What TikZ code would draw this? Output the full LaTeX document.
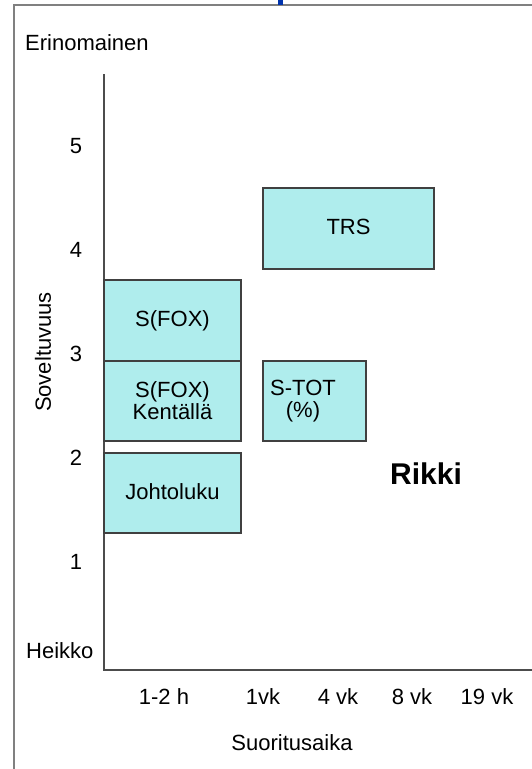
\documentclass[tikz,border=0pt]{standalone}
\usepackage{fontspec}
\setmainfont{Liberation Sans}
\begin{document}
\begin{tikzpicture}[x=1pt,y=-1pt,
  every node/.style={font=\fontsize{22}{24}\selectfont, inner sep=0pt},
  method/.style={draw=black!75, line width=1.2pt, fill=cyan!30!white!85!teal!20, align=center},
  axisline/.style={draw=black!70, line width=1.6pt},
  framel/.style={draw=black!50, line width=2pt}]
\definecolor{boxfill}{HTML}{AFEDED}
\useasboundingbox (0,0) rectangle (532,769);
% outer frame (top and left edges)
\draw[framel] (13.5,769) -- (13.5,4.5) -- (532,4.5);
\fill[blue!60!black!80!cyan] (277.5,0) rectangle (283,5);
% axes
\coordinate (ytop) at (104,74);
\coordinate (origin) at (104,670);
\coordinate (xend) at (532,670);
\draw[axisline] (ytop) -- (origin) -- (xend);
% axis texts
\node[anchor=west] (best) at (25,43) {Erinomainen};
\node[anchor=west] (worst) at (26,651) {Heikko};
\node[rotate=90] (ylab) at (43,352) {Soveltuvuus};
\foreach \v/\yy in {5/146,4/250,3/354,2/458,1/562}
  \node (n\v) at (76,\yy) {\v};
\node (t1) at (164,697) {1-2 h};
\node (t2) at (263,697) {1vk};
\node (t3) at (338,697) {4 vk};
\node (t4) at (412,697) {8 vk};
\node (t5) at (487,697) {19 vk};
\node (xlab) at (292,743) {Suoritusaika};
% methods
\draw[method, fill=boxfill] (104,280) rectangle (241,361);
\node (sfox) at (172.5,320.5) {S(FOX)};
\draw[method, fill=boxfill] (104,361) rectangle (241,441);
\node[align=center] (sfoxk) at (172.5,401) {S(FOX)\\[-2pt]Kentällä};
\draw[method, fill=boxfill] (104,453) rectangle (241,533);
\node (johto) at (172.5,492) {Johtoluku};
\draw[method, fill=boxfill] (263,188) rectangle (434,269);
\node (trs) at (348.5,227) {TRS};
\draw[method, fill=boxfill] (263,361) rectangle (366,441);
\node[align=center] (stot) at (303,401) {S-TOT\\[-2pt](\%)};
\node[font=\bfseries\fontsize{30}{32}\selectfont] (rikki) at (426,474) {Rikki};
\end{tikzpicture}
\end{document}
